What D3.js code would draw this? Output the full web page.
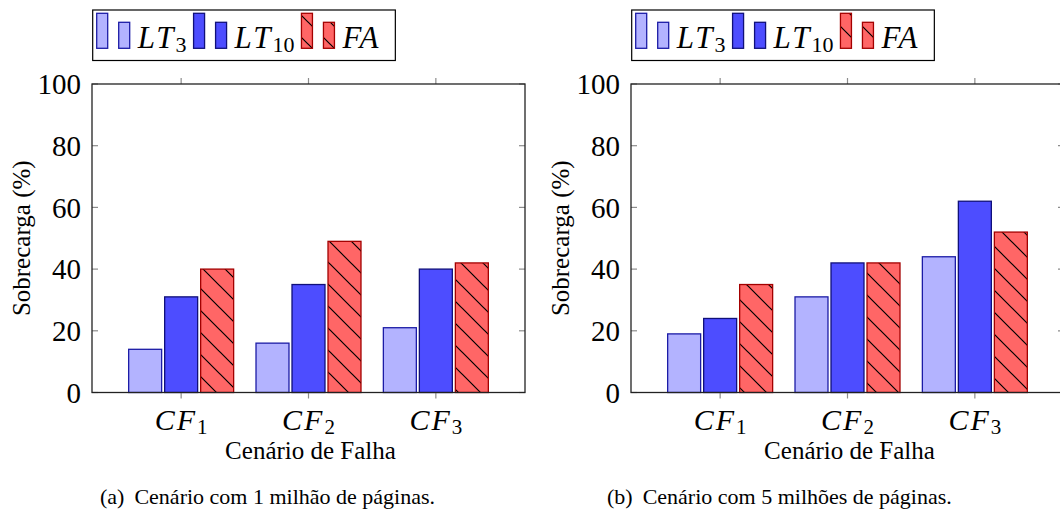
<!DOCTYPE html>
<html>
<head>
<meta charset="utf-8">
<script src="https://cdn.jsdelivr.net/npm/d3@7"></script>
<style>
  body { margin: 0; background: #fff; }
  svg { display: block; }
  svg text { font-family: "Times New Roman", Times, "Liberation Serif", "DejaVu Serif", "Noto Serif", serif; }
</style>
</head>
<body>
<svg id="chart" width="1060" height="510"></svg>
<script>
// categories (subscripts of CF) and series
const categories = ["1", "2", "3"];
const seriesNames = ["LT_3", "LT_10", "FA"];
const yTicks = [0, 20, 40, 60, 80, 100];

// (a) 1 milhão de páginas
const lt3A = [14, 16, 21];
const lt10A = [31, 35, 40];
const faA = [40, 49, 42];

// (b) 5 milhões de páginas
const lt3B = [19, 31, 44];
const lt10B = [24, 42, 62];
const faB = [35, 42, 52];

const captions = [
  ["(a)", "Cenário com 1 milhão de páginas."],
  ["(b)", "Cenário com 5 milhões de páginas."]
];

const fills = ["#b3b3ff", "#4d4dff", "#ff6666"];
const strokes = ["#1c1ca6", "#10107a", "#a30000"];
const hatched = [false, false, true];

const svg = d3.select("#chart");

const defs = svg.append("defs");
defs.append("pattern")
  .attr("id", "hatch")
  .attr("patternUnits", "userSpaceOnUse")
  .attr("width", 22)
  .attr("height", 22)
  .append("path")
  .attr("d", "M0,0 L22,22 M-11,11 L11,33 M11,-11 L33,11")
  .attr("stroke", "#000")
  .attr("stroke-width", 1.2)
  .attr("fill", "none");

function mathLabel(sel, label, size, subSize) {
  const parts = label.split("_");
  sel.append("tspan")
    .attr("font-style", "italic")
    .attr("font-size", size)
    .attr("letter-spacing", 2)
    .text(parts[0]);
  if (parts[1]) {
    sel.append("tspan")
      .attr("font-size", subSize)
      .attr("dy", 4)
      .text(parts[1]);
  }
}

function drawPanel(opts) {
  const g = svg.append("g");
  const data = opts.data;

  const x = d3.scaleLinear().domain([0.3, 3.7]).range([opts.left, opts.right]);
  const y = d3.scaleLinear().domain([0, 100]).range([opts.bottom, opts.top]);
  const inner = d3.scaleBand().domain(seriesNames).range([-54, 54])
    .paddingInner(0.056).paddingOuter(0.028);

  // bars
  seriesNames.forEach((s, si) => {
    const bars = g.append("g").selectAll("g")
      .data(data[si])
      .enter()
      .append("g");
    const bx = (d, i) => x(i + 1) + inner(s) + 0.5;
    const bw = inner.bandwidth() - 1;
    bars.append("rect")
      .attr("x", bx)
      .attr("y", d => y(d))
      .attr("width", bw)
      .attr("height", d => y(0) - y(d))
      .attr("fill", fills[si]);
    if (hatched[si]) {
      bars.append("rect")
        .attr("x", bx)
        .attr("y", d => y(d))
        .attr("width", bw)
        .attr("height", d => y(0) - y(d))
        .attr("fill", "url(#hatch)");
    }
    bars.append("rect")
      .attr("x", bx)
      .attr("y", d => y(d))
      .attr("width", bw)
      .attr("height", d => y(0) - y(d))
      .attr("fill", "none")
      .attr("stroke", strokes[si])
      .attr("stroke-width", 1.3);
  });

  // ticks
  const tickCol = "#8c8c8c";
  yTicks.forEach(t => {
    g.append("line").attr("x1", opts.left).attr("x2", opts.left + 6)
      .attr("y1", y(t)).attr("y2", y(t))
      .attr("stroke", tickCol).attr("stroke-width", 1.2);
    g.append("line").attr("x1", opts.right).attr("x2", opts.right - 6)
      .attr("y1", y(t)).attr("y2", y(t))
      .attr("stroke", tickCol).attr("stroke-width", 1.2);
    g.append("text")
      .attr("x", opts.left - 11)
      .attr("y", y(t))
      .attr("dy", "0.35em")
      .attr("text-anchor", "end")
      .attr("font-size", 29)
      .text(t);
  });
  categories.forEach((c, i) => {
    g.append("line").attr("x1", x(i + 1)).attr("x2", x(i + 1))
      .attr("y1", opts.bottom).attr("y2", opts.bottom + 6)
      .attr("stroke", tickCol).attr("stroke-width", 1.2);
    g.append("line").attr("x1", x(i + 1)).attr("x2", x(i + 1))
      .attr("y1", opts.top).attr("y2", opts.top - 6)
      .attr("stroke", tickCol).attr("stroke-width", 1.2);
    const t = g.append("text")
      .attr("x", x(i + 1))
      .attr("y", opts.bottom + 37)
      .attr("text-anchor", "middle");
    mathLabel(t, "CF_" + c, 30, 21);
  });

  // frame
  g.append("rect")
    .attr("x", opts.left).attr("y", opts.top)
    .attr("width", opts.right - opts.left)
    .attr("height", opts.bottom - opts.top)
    .attr("fill", "none")
    .attr("stroke", "#222")
    .attr("stroke-width", 1.3);

  // axis labels
  g.append("text")
    .attr("x", (opts.left + opts.right) / 2 + 2)
    .attr("y", opts.bottom + 66)
    .attr("text-anchor", "middle")
    .attr("font-size", 25)
    .text("Cenário de Falha");
  g.append("text")
    .attr("transform", `translate(${opts.left - 62},${(opts.top + opts.bottom) / 2}) rotate(-90)`)
    .attr("text-anchor", "middle")
    .attr("font-size", 25)
    .text("Sobrecarga (%)");

  // caption
  const cap = g.append("text")
    .attr("x", opts.capX)
    .attr("y", 504)
    .attr("font-size", 22);
  cap.append("tspan").text(opts.caption[0]);
  cap.append("tspan").attr("dx", 10).text(opts.caption[1]);

  // legend
  const lg = g.append("g");
  const box = lg.append("rect")
    .attr("x", opts.legX).attr("y", 10)
    .attr("height", 50.5)
    .attr("fill", "#fff")
    .attr("stroke", "#000")
    .attr("stroke-width", 1.2);
  let cx = opts.legX + 4;
  seriesNames.forEach((s, si) => {
    [[13.3, 35], [22.3, 26]].forEach((b, bi) => {
      const bx = cx + bi * 22;
      lg.append("rect").attr("x", bx).attr("y", b[0]).attr("width", 11)
        .attr("height", b[1]).attr("fill", fills[si]);
      if (hatched[si]) {
        lg.append("rect").attr("x", bx).attr("y", b[0]).attr("width", 11)
          .attr("height", b[1]).attr("fill", "url(#hatch)");
      }
      lg.append("rect").attr("x", bx).attr("y", b[0]).attr("width", 11)
        .attr("height", b[1]).attr("fill", "none")
        .attr("stroke", strokes[si]).attr("stroke-width", 1.3);
    });
    const t = lg.append("text")
      .attr("x", cx + 41)
      .attr("y", 48.3);
    mathLabel(t, s, 31, 22);
    const w = t.node().getComputedTextLength();
    cx = cx + 41 + w + 7;
  });
  box.attr("width", cx - opts.legX + 8);
}

drawPanel({
  left: 92, right: 525, top: 84, bottom: 392.5,
  data: [lt3A, lt10A, faA],
  caption: captions[0], capX: 100, legX: 92.7
});
drawPanel({
  left: 631, right: 1064, top: 84, bottom: 392.5,
  data: [lt3B, lt10B, faB],
  caption: captions[1], capX: 607, legX: 631.7
});
</script>
</body>
</html>
